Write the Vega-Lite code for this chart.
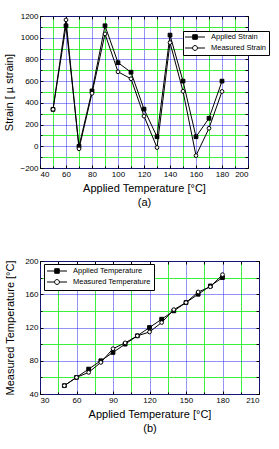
{
  "$schema": "https://vega.github.io/schema/vega-lite/v6.json",
  "padding": {"left": 3, "top": 11, "right": 2, "bottom": 4},
  "spacing": 48,
  "config": {
    "font": "Liberation Sans",
    "view": {"stroke": "black", "strokeWidth": 1},
    "axis": {
      "labelFont": "Liberation Sans",
      "labelFontSize": 8,
      "labelColor": "black",
      "titleFont": "Liberation Sans",
      "titleFontSize": 11,
      "titleFontWeight": "normal",
      "titleColor": "black",
      "domain": false,
      "tickColor": "black",
      "tickSize": -3,
      "labelPadding": 5,
      "gridWidth": 1,
      "format": "d"
    },
    "legend": {
      "labelFont": "Liberation Sans",
      "labelFontSize": 7.5,
      "labelColor": "black",
      "strokeColor": "black",
      "fillColor": "white",
      "symbolStrokeWidth": 1,
      "symbolStrokeColor": "black",
      "symbolSize": 49,
      "symbolOffset": 6,
      "labelOffset": 12,
      "rowPadding": 1,
      "padding": 2,
      "title": null
    }
  },
  "resolve": {
    "scale": {"shape": "independent", "fill": "independent", "stroke": "independent", "x": "independent", "y": "independent"},
    "legend": {"shape": "independent", "fill": "independent", "stroke": "independent"}
  },
  "vconcat": [
    {
      "width": 208,
      "height": 152,
      "data": {
        "values": [
          {"temp": 50, "strain": 340, "series": "Applied Strain"},
          {"temp": 60, "strain": 1110, "series": "Applied Strain"},
          {"temp": 70, "strain": 0, "series": "Applied Strain"},
          {"temp": 80, "strain": 510, "series": "Applied Strain"},
          {"temp": 90, "strain": 1110, "series": "Applied Strain"},
          {"temp": 100, "strain": 770, "series": "Applied Strain"},
          {"temp": 110, "strain": 682, "series": "Applied Strain"},
          {"temp": 120, "strain": 342, "series": "Applied Strain"},
          {"temp": 130, "strain": 88, "series": "Applied Strain"},
          {"temp": 140, "strain": 1024, "series": "Applied Strain"},
          {"temp": 150, "strain": 600, "series": "Applied Strain"},
          {"temp": 160, "strain": 88, "series": "Applied Strain"},
          {"temp": 170, "strain": 258, "series": "Applied Strain"},
          {"temp": 180, "strain": 600, "series": "Applied Strain"},
          {"temp": 50, "strain": 340, "series": "Measured Strain"},
          {"temp": 60, "strain": 1164, "series": "Measured Strain"},
          {"temp": 70, "strain": -23, "series": "Measured Strain"},
          {"temp": 80, "strain": 488, "series": "Measured Strain"},
          {"temp": 90, "strain": 1035, "series": "Measured Strain"},
          {"temp": 100, "strain": 686, "series": "Measured Strain"},
          {"temp": 110, "strain": 622, "series": "Measured Strain"},
          {"temp": 120, "strain": 278, "series": "Measured Strain"},
          {"temp": 130, "strain": -12, "series": "Measured Strain"},
          {"temp": 140, "strain": 955, "series": "Measured Strain"},
          {"temp": 150, "strain": 507, "series": "Measured Strain"},
          {"temp": 160, "strain": -86, "series": "Measured Strain"},
          {"temp": 170, "strain": 166, "series": "Measured Strain"},
          {"temp": 180, "strain": 505, "series": "Measured Strain"}
        ]
      },
      "layer": [
        {
          "mark": {"type": "line", "color": "black", "strokeWidth": 1},
          "encoding": {
            "x": {
              "field": "temp", "type": "quantitative",
              "scale": {"domain": [40, 200], "nice": false},
              "axis": {"orient": "bottom", "values": [50, 70, 90, 110, 130, 150, 170, 190], "grid": true, "gridColor": "#3cf03c", "labels": false, "tickSize": -2, "title": null}
            },
            "y": {
              "field": "strain", "type": "quantitative",
              "scale": {"domain": [-200, 1200], "nice": false},
              "axis": {"orient": "left", "values": [-100, 100, 300, 500, 700, 900, 1100], "grid": true, "gridColor": "#3cf03c", "labels": false, "tickSize": -2, "title": null, "minExtent": 0}
            },
            "detail": {"field": "series"}
          }
        },
        {
          "mark": {"type": "point", "filled": true, "stroke": "black", "strokeWidth": 1, "size": 14, "opacity": 1},
          "encoding": {
            "x": {
              "field": "temp", "type": "quantitative",
              "axis": {"orient": "bottom", "values": [40, 60, 80, 100, 120, 140, 160, 180, 200], "grid": true, "gridColor": "#2828e8", "gridDash": [1, 1], "title": ["Applied Temperature [°C]", "(a)"], "titlePadding": 4, "titleLineHeight": 14}
            },
            "y": {
              "field": "strain", "type": "quantitative",
              "axis": {"orient": "left", "values": [-200, 0, 200, 400, 600, 800, 1000, 1200], "grid": true, "gridColor": "#2828e8", "gridDash": [1, 1], "title": "Strain [ µ strain]", "titlePadding": 5}
            },
            "shape": {
              "field": "series",
              "scale": {"domain": ["Applied Strain", "Measured Strain"], "range": ["square", "circle"]},
              "legend": null
            },
            "fill": {
              "field": "series",
              "scale": {"domain": ["Applied Strain", "Measured Strain"], "range": ["black", "white"]},
              "legend": null
            }
          }
        },
        {
          "transform": [{"filter": "false"}],
          "mark": {"type": "point", "filled": true, "opacity": 1, "strokeWidth": 1},
          "encoding": {
            "x": {
              "field": "temp", "type": "quantitative",
              "axis": {"orient": "top", "values": [40, 50, 60, 70, 80, 90, 100, 110, 120, 130, 140, 150, 160, 170, 180, 190, 200], "grid": false, "labels": false, "title": null, "minExtent": 0, "maxExtent": 0}
            },
            "y": {
              "field": "strain", "type": "quantitative",
              "axis": {"orient": "right", "values": [-200, -100, 0, 100, 200, 300, 400, 500, 600, 700, 800, 900, 1000, 1100, 1200], "grid": false, "labels": false, "title": null, "minExtent": 0, "maxExtent": 0}
            },
            "shape": {
              "field": "series",
              "scale": {
                "domain": ["Applied Strain", "Measured Strain"],
                "range": [
                  "M-2.85,0H-0.6M0.6,0H2.85M-0.65,-0.65H0.65V0.65H-0.65Z",
                  "M-2.85,0H-0.7M0.7,0H2.85M0.7,0A0.7,0.7 0 1,1 -0.7,0A0.7,0.7 0 1,1 0.7,0Z"
                ]
              },
              "legend": {"orient": "none", "legendX": 143, "legendY": 15, "symbolStrokeColor": "black", "symbolStrokeWidth": 1}
            },
            "fill": {
              "field": "series",
              "scale": {"domain": ["Applied Strain", "Measured Strain"], "range": ["black", "white"]},
              "legend": {"orient": "none", "legendX": 143, "legendY": 15, "symbolStrokeColor": "black", "symbolStrokeWidth": 1}
            },
            "stroke": {
              "field": "series",
              "scale": {"domain": ["Applied Strain", "Measured Strain"], "range": ["black", "black"]},
              "legend": {"orient": "none", "legendX": 143, "legendY": 15, "symbolStrokeColor": "black", "symbolStrokeWidth": 1}
            }
          }
        }
      ],
      "resolve": {
        "axis": {"x": "independent", "y": "independent"},
        "scale": {"shape": "independent", "fill": "independent", "stroke": "independent"}
      }
    },
    {
      "width": 219,
      "height": 133,
      "data": {
        "values": [
          {"temp": 50, "measured": 50, "series": "Applied Temperature"},
          {"temp": 60, "measured": 60, "series": "Applied Temperature"},
          {"temp": 70, "measured": 70, "series": "Applied Temperature"},
          {"temp": 80, "measured": 80, "series": "Applied Temperature"},
          {"temp": 90, "measured": 90, "series": "Applied Temperature"},
          {"temp": 100, "measured": 100, "series": "Applied Temperature"},
          {"temp": 110, "measured": 110, "series": "Applied Temperature"},
          {"temp": 120, "measured": 120, "series": "Applied Temperature"},
          {"temp": 130, "measured": 130, "series": "Applied Temperature"},
          {"temp": 140, "measured": 140, "series": "Applied Temperature"},
          {"temp": 150, "measured": 150, "series": "Applied Temperature"},
          {"temp": 160, "measured": 160, "series": "Applied Temperature"},
          {"temp": 170, "measured": 170, "series": "Applied Temperature"},
          {"temp": 180, "measured": 180, "series": "Applied Temperature"},
          {"temp": 50, "measured": 50, "series": "Measured Temperature"},
          {"temp": 60, "measured": 60, "series": "Measured Temperature"},
          {"temp": 70, "measured": 66, "series": "Measured Temperature"},
          {"temp": 80, "measured": 78, "series": "Measured Temperature"},
          {"temp": 90, "measured": 94.5, "series": "Measured Temperature"},
          {"temp": 100, "measured": 101.5, "series": "Measured Temperature"},
          {"temp": 110, "measured": 110, "series": "Measured Temperature"},
          {"temp": 120, "measured": 114.6, "series": "Measured Temperature"},
          {"temp": 130, "measured": 126, "series": "Measured Temperature"},
          {"temp": 140, "measured": 141.5, "series": "Measured Temperature"},
          {"temp": 150, "measured": 150, "series": "Measured Temperature"},
          {"temp": 160, "measured": 162.7, "series": "Measured Temperature"},
          {"temp": 170, "measured": 169, "series": "Measured Temperature"},
          {"temp": 180, "measured": 183.6, "series": "Measured Temperature"}
        ]
      },
      "layer": [
        {
          "mark": {"type": "line", "color": "black", "strokeWidth": 1},
          "encoding": {
            "x": {
              "field": "temp", "type": "quantitative",
              "scale": {"domain": [30, 210], "nice": false},
              "axis": {"orient": "bottom", "values": [45, 75, 105, 135, 165, 195], "grid": true, "gridColor": "#3cf03c", "labels": false, "tickSize": -2, "title": null}
            },
            "y": {
              "field": "measured", "type": "quantitative",
              "scale": {"domain": [40, 200], "nice": false},
              "axis": {"orient": "left", "values": [60, 100, 140, 180], "grid": true, "gridColor": "#3cf03c", "labels": false, "tickSize": -2, "title": null, "minExtent": 0}
            },
            "detail": {"field": "series"}
          }
        },
        {
          "mark": {"type": "point", "filled": true, "stroke": "black", "strokeWidth": 1, "size": 14, "opacity": 1},
          "encoding": {
            "x": {
              "field": "temp", "type": "quantitative",
              "axis": {"orient": "bottom", "values": [30, 60, 90, 120, 150, 180, 210], "grid": true, "gridColor": "#2828e8", "gridDash": [1, 1], "title": ["Applied Temperature [°C]", "(b)"], "titlePadding": 4, "titleLineHeight": 14}
            },
            "y": {
              "field": "measured", "type": "quantitative",
              "axis": {"orient": "left", "values": [40, 80, 120, 160, 200], "grid": true, "gridColor": "#2828e8", "gridDash": [1, 1], "title": "Measured Temperature [°C]", "titlePadding": 9}
            },
            "shape": {
              "field": "series",
              "scale": {"domain": ["Applied Temperature", "Measured Temperature"], "range": ["square", "circle"]},
              "legend": null
            },
            "fill": {
              "field": "series",
              "scale": {"domain": ["Applied Temperature", "Measured Temperature"], "range": ["black", "white"]},
              "legend": null
            }
          }
        },
        {
          "transform": [{"filter": "false"}],
          "mark": {"type": "point", "filled": true, "opacity": 1, "strokeWidth": 1},
          "encoding": {
            "x": {
              "field": "temp", "type": "quantitative",
              "axis": {"orient": "top", "values": [30, 45, 60, 75, 90, 105, 120, 135, 150, 165, 180, 195, 210], "grid": false, "labels": false, "title": null, "minExtent": 0, "maxExtent": 0}
            },
            "y": {
              "field": "measured", "type": "quantitative",
              "axis": {"orient": "right", "values": [40, 60, 80, 100, 120, 140, 160, 180, 200], "grid": false, "labels": false, "title": null, "minExtent": 0, "maxExtent": 0}
            },
            "shape": {
              "field": "series",
              "scale": {
                "domain": ["Applied Temperature", "Measured Temperature"],
                "range": [
                  "M-2.85,0H-0.6M0.6,0H2.85M-0.65,-0.65H0.65V0.65H-0.65Z",
                  "M-2.85,0H-0.7M0.7,0H2.85M0.7,0A0.7,0.7 0 1,1 -0.7,0A0.7,0.7 0 1,1 0.7,0Z"
                ]
              },
              "legend": {"orient": "none", "legendX": 4, "legendY": 3, "padding": 3, "symbolStrokeColor": "black", "symbolStrokeWidth": 1}
            },
            "fill": {
              "field": "series",
              "scale": {"domain": ["Applied Temperature", "Measured Temperature"], "range": ["black", "white"]},
              "legend": {"orient": "none", "legendX": 4, "legendY": 3, "padding": 3, "symbolStrokeColor": "black", "symbolStrokeWidth": 1}
            },
            "stroke": {
              "field": "series",
              "scale": {"domain": ["Applied Temperature", "Measured Temperature"], "range": ["black", "black"]},
              "legend": {"orient": "none", "legendX": 4, "legendY": 3, "padding": 3, "symbolStrokeColor": "black", "symbolStrokeWidth": 1}
            }
          }
        }
      ],
      "resolve": {
        "axis": {"x": "independent", "y": "independent"},
        "scale": {"shape": "independent", "fill": "independent", "stroke": "independent"}
      }
    }
  ]
}
